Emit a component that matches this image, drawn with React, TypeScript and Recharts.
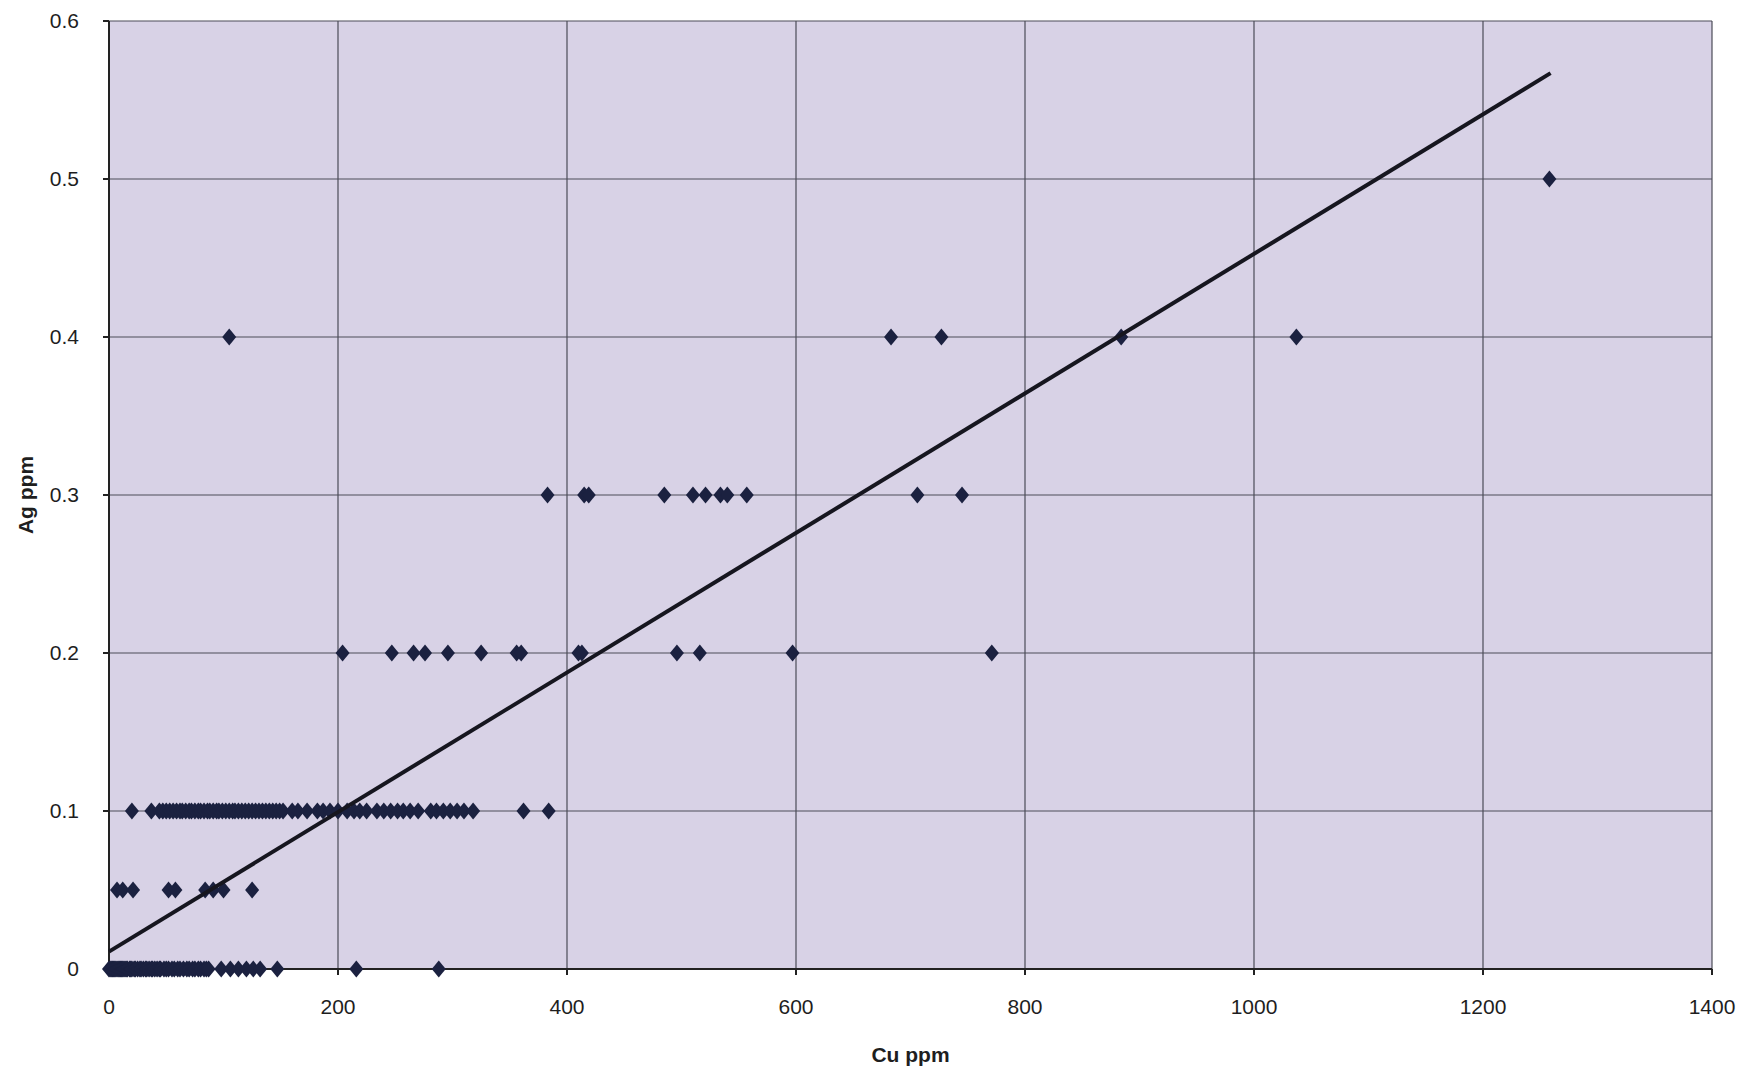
import { CartesianGrid, Scatter, ScatterChart, XAxis, YAxis } from 'recharts'

// Cu ppm values, grouped by the Ag ppm level they sit on
const cuAtAg0 = [
  0, 1, 2, 3, 4, 5, 6, 7, 8, 9, 10, 11, 12, 13, 14, 15, 16, 18, 19, 20, 22, 23, 25, 27, 28, 30, 32, 33, 35,
  37, 38, 40, 42, 44, 45, 48, 50, 52, 55, 57, 60, 62, 65, 68, 70, 73, 75, 78, 80, 83, 85, 87, 98, 106, 113,
  120, 126, 132, 147, 216, 288,
]
const cuAtAg005 = [7, 12, 21, 52, 58, 84, 91, 100, 125]
const cuAtAg01 = [
  20, 37, 44, 47, 50, 53, 56, 59, 62, 64, 67, 70, 72, 75, 78, 80, 83, 86, 88, 91, 94, 96, 99, 102, 105, 108,
  110, 113, 116, 119, 122, 125, 128, 131, 134, 137, 140, 143, 146, 149, 152, 160, 165, 173, 182, 187, 193,
  200, 208, 214, 219, 225, 234, 240, 246, 252, 257, 263, 270, 281, 286, 292, 298, 304, 310, 318, 362, 384,
]
const cuAtAg02 = [204, 247, 266, 276, 296, 325, 356, 360, 410, 413, 496, 516, 597, 771]
const cuAtAg03 = [383, 415, 419, 485, 510, 521, 534, 540, 557, 706, 745]
const cuAtAg04 = [105, 683, 727, 884, 1037]
const cuAtAg05 = [1258]

const agLevels = [0, 0.05, 0.1, 0.2, 0.3, 0.4, 0.5]
const cuGroups = [cuAtAg0, cuAtAg005, cuAtAg01, cuAtAg02, cuAtAg03, cuAtAg04, cuAtAg05]

// linear trend line end points (Cu ppm, Ag ppm)
const trendCu = [0, 1259]
const trendAg = [0.011, 0.567]

const xTicks = [0, 200, 400, 600, 800, 1000, 1200, 1400]
const yTicks = [0, 0.1, 0.2, 0.3, 0.4, 0.5, 0.6]

const samples = cuGroups.flatMap((group, i) => group.map((cu) => ({ cu, ag: agLevels[i] })))
const trend = trendCu.map((cu, i) => ({ cu, ag: trendAg[i] }))

const font = "'Liberation Sans Narrow', 'Liberation Sans', Arial, sans-serif"
const markerColor = '#1b2140'

function Diamond(props: { cx?: number; cy?: number }) {
  const { cx = 0, cy = 0 } = props
  return (
    <path
      d={`M${cx},${cy - 8.5}L${cx + 7},${cy}L${cx},${cy + 8.5}L${cx - 7},${cy}Z`}
      fill={markerColor}
    />
  )
}

const tickStyle = { fontSize: 21, fill: '#1e1e1e', fontFamily: font }

export default function App() {
  return (
    <div style={{ position: 'absolute', left: 0, top: 0, background: '#fff' }}>
      <ScatterChart width={1762} height={1074} margin={{ top: 21, right: 50, bottom: 0, left: 0 }}>
        <CartesianGrid fill="#d8d2e6" stroke="#4c4c58" strokeWidth={1.2} />
        <XAxis
          type="number"
          dataKey="cu"
          domain={[0, 1400]}
          ticks={xTicks}
          height={105}
          tick={tickStyle}
          tickSize={6}
          tickMargin={24}
          stroke="#222"
          strokeWidth={2}
          label={({ viewBox }: any) => (
            <text
              x={(viewBox?.x ?? 109) + (viewBox?.width ?? 1603) / 2}
              y={1062}
              textAnchor="middle"
              fontFamily={font}
              fontWeight="bold"
              fontSize={21}
              fill="#1e1e1e"
            >
              Cu ppm
            </text>
          )}
        />
        <YAxis
          type="number"
          dataKey="ag"
          domain={[0, 0.6]}
          ticks={yTicks}
          width={109}
          tick={tickStyle}
          tickSize={6}
          tickMargin={24}
          tickFormatter={(v: number) => String(v)}
          stroke="#222"
          strokeWidth={2}
          label={({ viewBox }: any) => {
            const cy = (viewBox?.y ?? 21) + (viewBox?.height ?? 948) / 2
            return (
              <text
                x={25}
                y={cy}
                transform={`rotate(-90, 25, ${cy})`}
                textAnchor="middle"
                dominantBaseline="central"
                fontFamily={font}
                fontWeight="bold"
                fontSize={21}
                fill="#1e1e1e"
              >
                Ag ppm
              </text>
            )
          }}
        />
        <Scatter data={samples} shape={<Diamond />} isAnimationActive={false} />
        <Scatter
          data={trend}
          line={{ stroke: '#16161f', strokeWidth: 4 }}
          shape={() => <g />}
          isAnimationActive={false}
        />
      </ScatterChart>
    </div>
  )
}
